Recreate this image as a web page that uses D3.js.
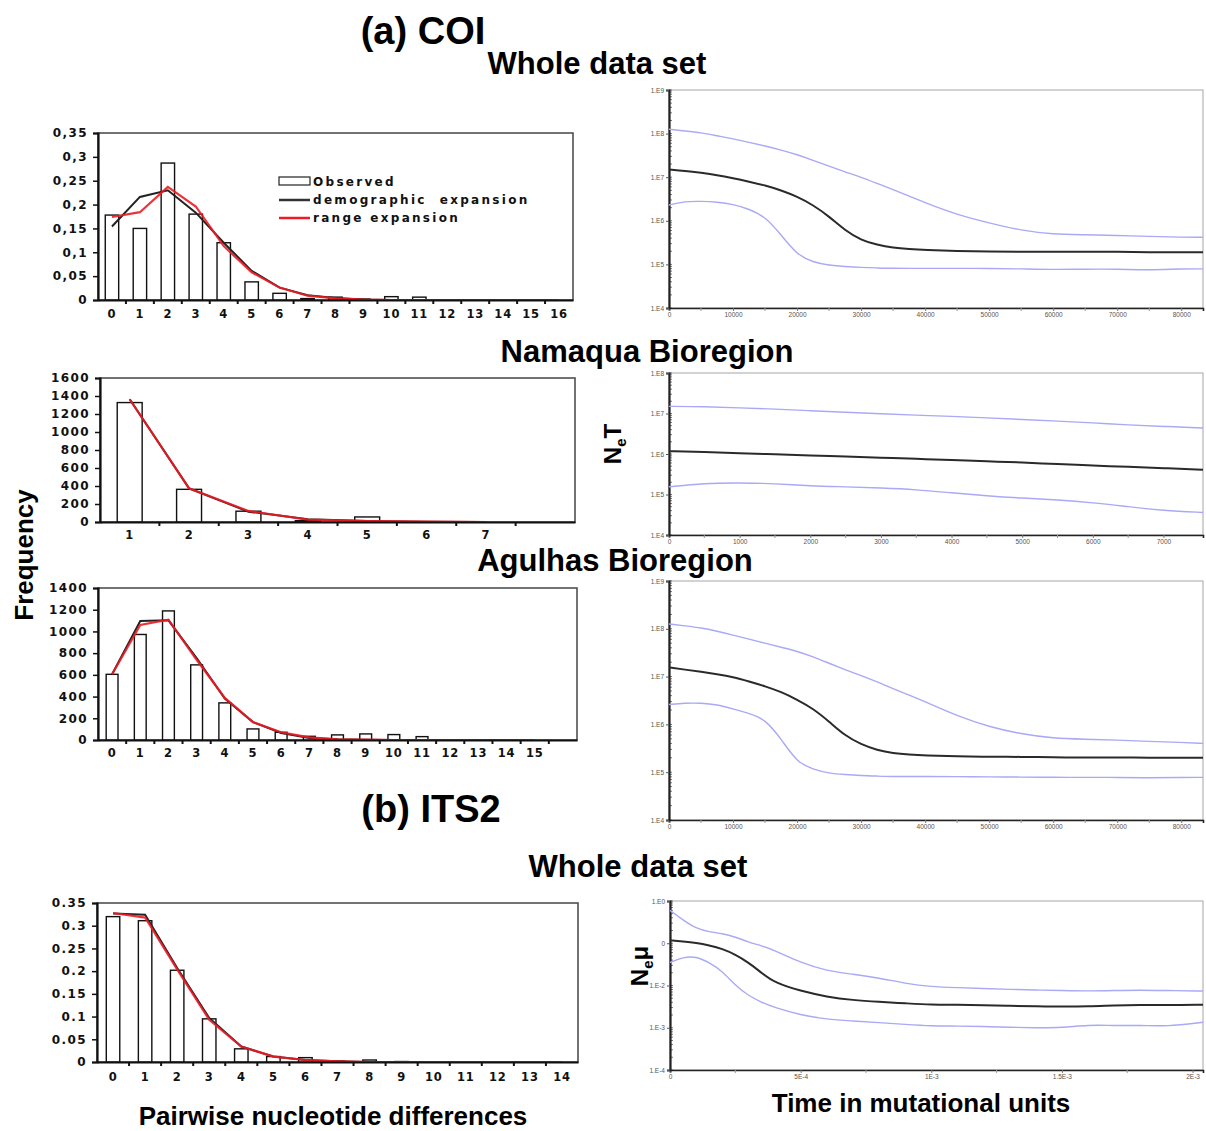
<!DOCTYPE html>
<html><head><meta charset="utf-8">
<script src="https://cdn.jsdelivr.net/npm/d3@7"></script>
<style>body{margin:0;background:#fff}</style>
</head><body><svg id="c" width="1206" height="1131"></svg>
<script>
// ---------- DATA ----------
// (a) COI whole data set - mismatch distribution (relative frequency)
const coiCats = [0,1,2,3,4,5,6,7,8,9,10,11,12,13,14,15,16];
const coiCatLabels = ["0","1","2","3","4","5","6","7","8","9","10","11","12","13","14","15","16"];
const coiObserved = [0.178,0.150,0.287,0.180,0.120,0.038,0.014,0.003,0.006,0.002,0.007,0.006,0,0,0,0,0];
const coiDemographic = [0.154,0.216,0.230,0.183,0.120,0.061,0.026,0.010,0.004,0.001,0,0,0,0,0,0,0];
const coiRange = [0.174,0.184,0.237,0.196,0.113,0.058,0.026,0.009,0.0035,0.001,0,0,0,0,0,0,0];
const coiYTicks = [0,0.05,0.1,0.15,0.2,0.25,0.3,0.35];
const coiYLabels = ["0","0,05","0,1","0,15","0,2","0,25","0,3","0,35"];

// Namaqua Bioregion - mismatch (counts)
const namCats = [1,2,3,4,5,6,7,8];
const namCatLabels = ["1","2","3","4","5","6","7",""];
const namObserved = [1327,363,120,15,56,0,0,0];
const namDemographic = [1364,374,115,30,10,3,0];
const namRange = [1364,374,123,26,11,4,0];
const namYTicks = [0,200,400,600,800,1000,1200,1400,1600];
const namYLabels = ["0","200","400","600","800","1000","1200","1400","1600"];

// Agulhas Bioregion - mismatch (counts)
const agCats = [0,1,2,3,4,5,6,7,8,9,10,11,12,13,14,15,16];
const agCatLabels = ["0","1","2","3","4","5","6","7","8","9","10","11","12","13","14","15",""];
const agObserved = [605,972,1189,692,342,102,71,34,47,56,50,31,0,0,0,0,0];
const agDemographic = [605,1096,1102,755,382,165,65,19,6,3,0,0,0,0,0,0];
const agRange = [605,1059,1109,739,388,165,71,25,6,3,0,0,0,0,0,0];
const agYTicks = [0,200,400,600,800,1000,1200,1400];
const agYLabels = ["0","200","400","600","800","1000","1200","1400"];

// (b) ITS2 whole data set - mismatch (relative frequency)
const itsCats = [0,1,2,3,4,5,6,7,8,9,10,11,12,13,14];
const itsCatLabels = ["0","1","2","3","4","5","6","7","8","9","10","11","12","13","14"];
const itsObserved = [0.320,0.311,0.202,0.095,0.029,0.012,0.0096,0.002,0.0044,0.001,0,0,0,0,0];
const itsDemographic = [0.327,0.324,0.207,0.097,0.034,0.012,0.0044,0.0015,0,0,0,0,0,0,0];
const itsRange = [0.328,0.318,0.204,0.093,0.034,0.012,0.0044,0.0015,0,0,0,0,0,0,0];
const itsYTicks = [0,0.05,0.1,0.15,0.2,0.25,0.3,0.35];
const itsYLabels = ["0","0.05","0.1","0.15","0.2","0.25","0.3","0.35"];

// Bayesian skyline plots
const skyDecadesE9 = [1e4,1e5,1e6,1e7,1e8,1e9];
const skyDecadesE9Labels = ["1.E4","1.E5","1.E6","1.E7","1.E8","1.E9"];
const skyDecadesE8 = [1e4,1e5,1e6,1e7,1e8];
const skyDecadesE8Labels = ["1.E4","1.E5","1.E6","1.E7","1.E8"];
const skyDecadesE0 = [1e-4,1e-3,1e-2,1e-1,1];
const skyDecadesE0Labels = ["1.E-4","1.E-3","1.E-2","0","1.E0"];

const coiTimeTicks = [0,10000,20000,30000,40000,50000,60000,70000,80000];
const coiTimeLabels = ["0","10000","20000","30000","40000","50000","60000","70000","80000"];
const coiTime = [0,2500,5000,7500,10000,12500,15000,17500,20000,22500,25000,27500,30000,32500,35000,37500,40000,45000,50000,55000,60000,65000,70000,75000,80000,83400];
const coiMedian = [1.5e7,1.4e7,1.26e7,1.12e7,9.5e6,7.9e6,6.5e6,5.0e6,3.6e6,2.3e6,1.26e6,6.0e5,3.6e5,2.8e5,2.4e5,2.24e5,2.14e5,2.04e5,1.95e5,1.95e5,1.95e5,1.95e5,1.95e5,1.9e5,1.9e5,1.9e5];
const coiUpper = [1.26e8,1.15e8,1.05e8,8.9e7,7.6e7,6.3e7,5.2e7,4.2e7,3.3e7,2.45e7,1.78e7,1.32e7,1.0e7,7.2e6,5.2e6,3.7e6,2.6e6,1.38e6,8.9e5,6.0e5,4.9e5,4.8e5,4.6e5,4.4e5,4.2e5,4.2e5];
const coiLower = [2.3e6,2.8e6,2.8e6,2.7e6,2.4e6,1.86e6,1.26e6,4.8e5,1.66e5,1.12e5,9.5e4,8.9e4,8.5e4,8.3e4,8.1e4,8.1e4,8.1e4,8.1e4,8.1e4,7.9e4,7.6e4,7.8e4,7.8e4,7.4e4,7.9e4,7.9e4];

const namTimeTicks = [0,1000,2000,3000,4000,5000,6000,7000];
const namTimeLabels = ["0","1000","2000","3000","4000","5000","6000","7000"];
const namTime = [0,500,1000,1500,2000,2500,3000,3500,4000,4500,5000,5500,6000,6500,7000,7560];
const namMedian = [1.17e6,1.12e6,1.05e6,9.8e5,9.1e5,8.7e5,8.1e5,7.6e5,7.1e5,6.6e5,6.2e5,5.6e5,5.2e5,4.8e5,4.5e5,4.1e5];
const namUpper = [1.5e7,1.48e7,1.38e7,1.29e7,1.17e7,1.07e7,9.8e6,9.1e6,8.5e6,7.8e6,7.1e6,6.5e6,5.9e6,5.2e6,4.8e6,4.4e6];
const namLower = [1.55e5,1.9e5,1.95e5,1.86e5,1.62e5,1.55e5,1.45e5,1.32e5,1.1e5,9.3e4,8.1e4,7.4e4,6.3e4,5.0e4,4.0e4,3.6e4];

const agTime = [0,2500,5000,7500,10000,12500,15000,17500,20000,22500,25000,27500,30000,32500,35000,37500,40000,45000,50000,55000,60000,65000,70000,75000,80000,83400];
const agMedian = [1.55e7,1.4e7,1.26e7,1.12e7,9.8e6,7.9e6,6.3e6,4.8e6,3.3e6,2.14e6,1.15e6,5.8e5,3.8e5,2.9e5,2.5e5,2.34e5,2.24e5,2.14e5,2.1e5,2.1e5,2.04e5,2.04e5,2.04e5,2.0e5,2.0e5,2.0e5];
const agUpper = [1.26e8,1.15e8,1.05e8,8.9e7,7.4e7,6.1e7,5.0e7,4.1e7,3.4e7,2.6e7,1.9e7,1.4e7,1.05e7,7.8e6,5.6e6,4.1e6,3.0e6,1.5e6,8.9e5,6.3e5,5.1e5,4.9e5,4.7e5,4.4e5,4.2e5,4.0e5];
const agLower = [2.6e6,2.8e6,2.8e6,2.6e6,2.1e6,1.7e6,1.3e6,5.0e5,1.6e5,1.15e5,9.5e4,8.9e4,8.5e4,8.3e4,8.1e4,8.1e4,8.1e4,8.1e4,8.0e4,7.9e4,7.8e4,7.8e4,7.8e4,7.6e4,7.8e4,7.8e4];

const itsTimeTicks = [0,5e-4,1e-3,1.5e-3,2e-3];
const itsTimeLabels = ["0","5E-4","1E-3","1.5E-3","2E-3"];
const itsTime = [0,5e-5,1e-4,1.5e-4,2e-4,2.5e-4,3e-4,3.5e-4,4e-4,5e-4,6e-4,7e-4,8e-4,9e-4,1e-3,1.1e-3,1.2e-3,1.3e-3,1.4e-3,1.5e-3,1.6e-3,1.7e-3,1.8e-3,1.9e-3,2.04e-3];
const itsMedian = [0.117,0.110,0.102,0.089,0.074,0.054,0.035,0.020,0.0117,0.0074,0.0054,0.0045,0.0041,0.0038,0.0035,0.0035,0.0034,0.0033,0.0032,0.0032,0.0032,0.0034,0.0035,0.0034,0.0035];
const itsUpper = [0.60,0.355,0.224,0.186,0.17,0.141,0.107,0.087,0.068,0.035,0.022,0.0186,0.0151,0.0112,0.0093,0.0089,0.0085,0.0081,0.0078,0.0076,0.0074,0.0076,0.0078,0.0076,0.0074];
const itsLower = [0.035,0.047,0.049,0.035,0.022,0.010,0.0058,0.0040,0.0030,0.0020,0.00158,0.00145,0.00132,0.0012,0.0011,0.0011,0.00107,0.00102,0.001,0.001,0.00117,0.00112,0.00115,0.00107,0.00135];

// ---------- DRAWING ----------
const svg = d3.select("#c");
svg.append("rect").attr("width",1206).attr("height",1131).attr("fill","#fff");
const FT = "'Liberation Sans', Arial, sans-serif";
const FK = "'DejaVu Sans', sans-serif";

function histogram(p){
  const g = svg.append("g");
  const x = d3.scaleBand().domain(p.cats).range([p.left,p.right]);
  const y = d3.scaleLinear().domain([0,p.yMax]).range([p.bottom,p.top]);
  const bw = x.bandwidth()*p.barFrac;
  g.append("rect").attr("x",p.left).attr("y",p.top).attr("width",p.right-p.left)
    .attr("height",p.bottom-p.top).attr("fill","none").attr("stroke","#444").attr("stroke-width",1.5);
  g.selectAll("rect.bar").data(p.obs.map((v,i)=>({c:p.cats[i],v})).filter(d=>d.v>0)).join("rect")
    .attr("class","bar")
    .attr("x",d=>x(d.c)+(x.bandwidth()-bw)/2).attr("y",d=>y(d.v))
    .attr("width",bw).attr("height",d=>y(0)-y(d.v))
    .attr("fill","#fff").attr("stroke","#111").attr("stroke-width",1.4);
  const line = d3.line().x(d=>x(d.c)+x.bandwidth()/2).y(d=>y(d.v));
  g.append("path").datum(p.demo.map((v,i)=>({c:p.cats[i],v})))
    .attr("d",line).attr("fill","none").attr("stroke","#222").attr("stroke-width",2);
  g.append("path").datum(p.range.map((v,i)=>({c:p.cats[i],v})))
    .attr("d",line).attr("fill","none").attr("stroke","#ec1c24").attr("stroke-opacity",0.9).attr("stroke-width",2.2);
  const ya = g.append("g").attr("transform",`translate(${p.left},0)`)
    .call(d3.axisLeft(y).tickValues(p.yTicks).tickFormat((d,i)=>p.yLabels[i]).tickSize(5).tickPadding(5));
  ya.select(".domain").attr("stroke","#111").attr("stroke-width",2.2);
  ya.selectAll(".tick line").attr("stroke","#111").attr("stroke-width",1.5);
  ya.selectAll("text").attr("font-family",FK).attr("font-weight","bold").attr("font-size",12)
    .attr("letter-spacing","1.4px").attr("fill","#111");
  const xa = g.append("g").attr("transform",`translate(0,${p.bottom})`)
    .call(d3.axisBottom(x).tickFormat((d,i)=>p.catLabels[i]).tickSize(0).tickPadding(p.xPad));
  xa.select(".domain").attr("stroke","#111").attr("stroke-width",2);
  xa.selectAll("text").attr("font-family",FK).attr("font-weight","bold").attr("font-size",11.5)
    .attr("letter-spacing","0.8px").attr("fill","#111");
  g.selectAll("line.bt").data(p.cats.slice(1)).join("line").attr("class","bt")
    .attr("x1",d=>x(d)).attr("x2",d=>x(d)).attr("y1",p.bottom).attr("y2",p.bottom+4)
    .attr("stroke","#111").attr("stroke-width",2);
  return {g,x,y};
}

function skyline(p){
  const g = svg.append("g");
  const x = d3.scaleLinear().domain([0,p.xMax]).range([p.left,p.right]);
  const y = d3.scaleLog().domain(p.yDomain).range([p.bottom,p.top]);
  g.append("rect").attr("x",p.left).attr("y",p.top).attr("width",p.right-p.left)
    .attr("height",p.bottom-p.top).attr("fill","none").attr("stroke","#b5b5b5").attr("stroke-width",1.2);
  g.selectAll("line.mt").data(y.ticks()).join("line").attr("class","mt")
    .attr("x1",p.left).attr("x2",p.left+3).attr("y1",d=>y(d)).attr("y2",d=>y(d))
    .attr("stroke","#555").attr("stroke-width",0.8);
  const xa = g.append("g").attr("transform",`translate(0,${p.bottom})`)
    .call(d3.axisBottom(x).tickValues(p.xTicks).tickFormat((d,i)=>p.xLabels[i]).tickSize(3).tickPadding(1.5));
  xa.select(".domain").attr("stroke","#222").attr("stroke-width",1.6);
  xa.selectAll(".tick line").attr("stroke","#777");
  xa.selectAll("text").attr("font-family",FT).attr("font-size",6.5).attr("fill","#555");
  g.selectAll("line.xm").data(p.xTicks.slice(1).map((d,i)=>(d+p.xTicks[i])/2)).join("line").attr("class","xm")
    .attr("x1",d=>x(d)).attr("x2",d=>x(d)).attr("y1",p.bottom).attr("y2",p.bottom+3)
    .attr("stroke","#999").attr("stroke-width",1);
  const ya = g.append("g").attr("transform",`translate(${p.left},0)`)
    .call(d3.axisLeft(y).tickValues(p.yTicks).tickFormat((d,i)=>p.yLabels[i]).tickSize(3).tickPadding(2));
  ya.select(".domain").attr("stroke","#222").attr("stroke-width",2.2);
  ya.selectAll(".tick line").attr("stroke","#555");
  ya.selectAll("text").attr("font-family",FT).attr("font-size",6.5).attr("fill","#555");
  const line = d3.line().curve(d3.curveBasis).x(d=>x(d[0])).y(d=>y(d[1]));
  const pts = arr => p.time.map((t,i)=>[t,arr[i]]);
  g.append("path").datum(pts(p.upper)).attr("d",line).attr("fill","none").attr("stroke","#a9a9f7").attr("stroke-width",1.4);
  g.append("path").datum(pts(p.lower)).attr("d",line).attr("fill","none").attr("stroke","#a9a9f7").attr("stroke-width",1.4);
  g.append("path").datum(pts(p.median)).attr("d",line).attr("fill","none").attr("stroke","#2a2a2a").attr("stroke-width",2);
}

histogram({left:98,right:573,top:133,bottom:300,cats:coiCats,catLabels:coiCatLabels,obs:coiObserved,
  demo:coiDemographic,range:coiRange,yMax:0.35,yTicks:coiYTicks,yLabels:coiYLabels,barFrac:0.48,xPad:10});
histogram({left:100,right:575,top:378,bottom:522,cats:namCats,catLabels:namCatLabels,obs:namObserved,
  demo:namDemographic,range:namRange,yMax:1600,yTicks:namYTicks,yLabels:namYLabels,barFrac:0.42,xPad:9});
histogram({left:98,right:577,top:588,bottom:740,cats:agCats,catLabels:agCatLabels,obs:agObserved,
  demo:agDemographic,range:agRange,yMax:1400,yTicks:agYTicks,yLabels:agYLabels,barFrac:0.42,xPad:9});
histogram({left:97,right:578,top:903,bottom:1062,cats:itsCats,catLabels:itsCatLabels,obs:itsObserved,
  demo:itsDemographic,range:itsRange,yMax:0.35,yTicks:itsYTicks,yLabels:itsYLabels,barFrac:0.42,xPad:11});

// Legend (panel a)
const lg = svg.append("g").attr("font-family",FK).attr("font-weight","bold").attr("font-size",12)
  .attr("letter-spacing","2.3px").attr("fill","#111");
lg.append("rect").attr("x",279).attr("y",177).attr("width",31).attr("height",8).attr("fill","#fff").attr("stroke","#222").attr("stroke-width",1.2);
lg.append("text").attr("x",313).attr("y",186).text("Observed");
lg.append("line").attr("x1",279).attr("x2",310).attr("y1",200).attr("y2",200).attr("stroke","#333").attr("stroke-width",2.5);
lg.append("text").attr("x",313).attr("y",204).attr("xml:space","preserve").text("demographic  expansion");
lg.append("line").attr("x1",279).attr("x2",310).attr("y1",218).attr("y2",218).attr("stroke","#ec1c24").attr("stroke-width",2.5);
lg.append("text").attr("x",313).attr("y",222).text("range expansion");

skyline({left:669,right:1203,top:90,bottom:308,xMax:83400,yDomain:[1e4,1e9],yTicks:skyDecadesE9,yLabels:skyDecadesE9Labels,
  xTicks:coiTimeTicks,xLabels:coiTimeLabels,time:coiTime,median:coiMedian,upper:coiUpper,lower:coiLower});
skyline({left:669,right:1203,top:373,bottom:535,xMax:7560,yDomain:[1e4,1e8],yTicks:skyDecadesE8,yLabels:skyDecadesE8Labels,
  xTicks:namTimeTicks,xLabels:namTimeLabels,time:namTime,median:namMedian,upper:namUpper,lower:namLower});
skyline({left:669,right:1203,top:581,bottom:820,xMax:83400,yDomain:[1e4,1e9],yTicks:skyDecadesE9,yLabels:skyDecadesE9Labels,
  xTicks:coiTimeTicks,xLabels:coiTimeLabels,time:agTime,median:agMedian,upper:agUpper,lower:agLower});
skyline({left:670,right:1203,top:901,bottom:1070,xMax:2.04e-3,yDomain:[1e-4,1],yTicks:skyDecadesE0,yLabels:skyDecadesE0Labels,
  xTicks:itsTimeTicks,xLabels:itsTimeLabels,time:itsTime,median:itsMedian,upper:itsUpper,lower:itsLower});

const T = (txt,x,y,size)=>svg.append("text").attr("x",x).attr("y",y).attr("text-anchor","middle")
  .attr("font-family",FT).attr("font-weight","bold").attr("font-size",size).attr("fill","#000").text(txt);
T("(a) COI",423,44,38);
T("Whole data set",597,74,31);
T("Namaqua Bioregion",647,362,31);
T("Agulhas Bioregion",615,571,31);
T("(b) ITS2",431,822,38);
T("Whole data set",638,877,31);
T("Pairwise nucleotide differences",333,1125,26);
T("Time in mutational units",921,1112,26);

svg.append("text").attr("transform","translate(33,555) rotate(-90)").attr("text-anchor","middle")
  .attr("font-family",FT).attr("font-weight","bold").attr("font-size",26).text("Frequency");
const ne1 = svg.append("text").attr("transform","translate(621,444) rotate(-90)").attr("text-anchor","middle")
  .attr("font-family",FT).attr("font-weight","bold").attr("font-size",24);
ne1.append("tspan").text("N");
ne1.append("tspan").attr("font-size",15).attr("dy",5).text("e");
ne1.append("tspan").attr("dy",-5).text("T");
const ne2 = svg.append("text").attr("transform","translate(648,966) rotate(-90)").attr("text-anchor","middle")
  .attr("font-family",FT).attr("font-weight","bold").attr("font-size",24);
ne2.append("tspan").text("N");
ne2.append("tspan").attr("font-size",15).attr("dy",5).text("e");
ne2.append("tspan").attr("dy",-5).text("μ");
</script>
</body></html>
